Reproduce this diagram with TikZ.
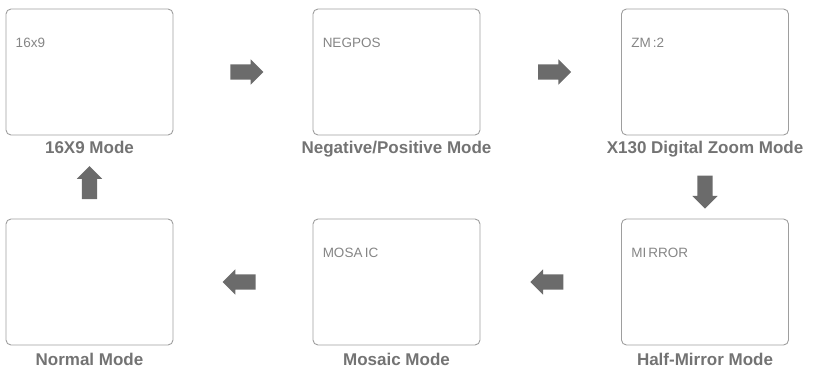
\documentclass[tikz,border=0pt]{standalone}
\usepackage{fontspec}
\setmainfont{Liberation Sans}
\usetikzlibrary{calc,positioning,shapes.arrows}

\tikzset{
  screen/.style={draw=black!38,line width=0.9pt,rounded corners=5pt,
    minimum width=167pt,minimum height=126pt,inner sep=0pt},
  osd/.style={anchor=west,inner sep=0pt,text=black!48,
    font=\fontsize{13.5}{14}\selectfont},
  caption/.style={inner sep=0pt,text=black!55,
    font=\fontsize{17}{18}\selectfont\bfseries},
  blockarrow/.style={single arrow,fill=black!58,draw=none,inner sep=7.5pt,
    minimum height=33pt,single arrow head extend=5pt},
}

\begin{document}
\begin{tikzpicture}[x=1pt,y=-1pt]
  \useasboundingbox (0,0) rectangle (820,372);

  \node[screen] (wide)   at (89.5,72) {};
  \node[screen] (negpos) at (396.5,72) {};
  \node[screen] (zoom)   at (705,72) {};
  \node[screen] (normal) at (89.5,282) {};
  \node[screen] (mosaic) at (396.5,282) {};
  \node[screen] (mirror) at (705,282) {};

  \node[osd] (widetxt)   at ($(wide.north west)+(10,34)$)   {16x9};
  \node[osd] (negpostxt) at ($(negpos.north west)+(10,34)$) {NEGPOS};
  \node[osd] (zoomtxt)   at ($(zoom.north west)+(10,34)$)   {ZM\,:2};
  \node[osd] (mosaictxt) at ($(mosaic.north west)+(10,34)$) {MOSA\,IC};
  \node[osd] (mirrortxt) at ($(mirror.north west)+(10,34)$) {MI\,RROR};

  \node[caption,below=6pt of wide] (widecap) {16X9 Mode};
  \node[caption,below=6pt of negpos] (negposcap) {Negative/Positive Mode};
  \node[caption,below=6pt of zoom] (zoomcap) {X130 Digital Zoom Mode};
  \node[caption,below=8pt of normal] (normalcap) {Normal Mode};
  \node[caption,below=8pt of mosaic] (mosaiccap) {Mosaic Mode};
  \node[caption,below=8pt of mirror] (mirrorcap) {Half-Mirror Mode};

  \node[blockarrow] (step1) at ($(wide.east)!0.5!(negpos.west)$) {};
  \node[blockarrow] (step2) at ($(negpos.east)!0.5!(zoom.west)$) {};
  \node[blockarrow,rotate=-90] (step3) at ($(zoomcap.south)!0.5!(mirror.north)$) {};
  \node[blockarrow,rotate=180] (step4) at ($(mirror.west)!0.5!(mosaic.east)$) {};
  \node[blockarrow,rotate=180] (step5) at ($(mosaic.west)!0.5!(normal.east)$) {};
  \node[blockarrow,rotate=90] (step6) at ($(widecap.south)!0.5!(normal.north)$) {};
\end{tikzpicture}
\end{document}
